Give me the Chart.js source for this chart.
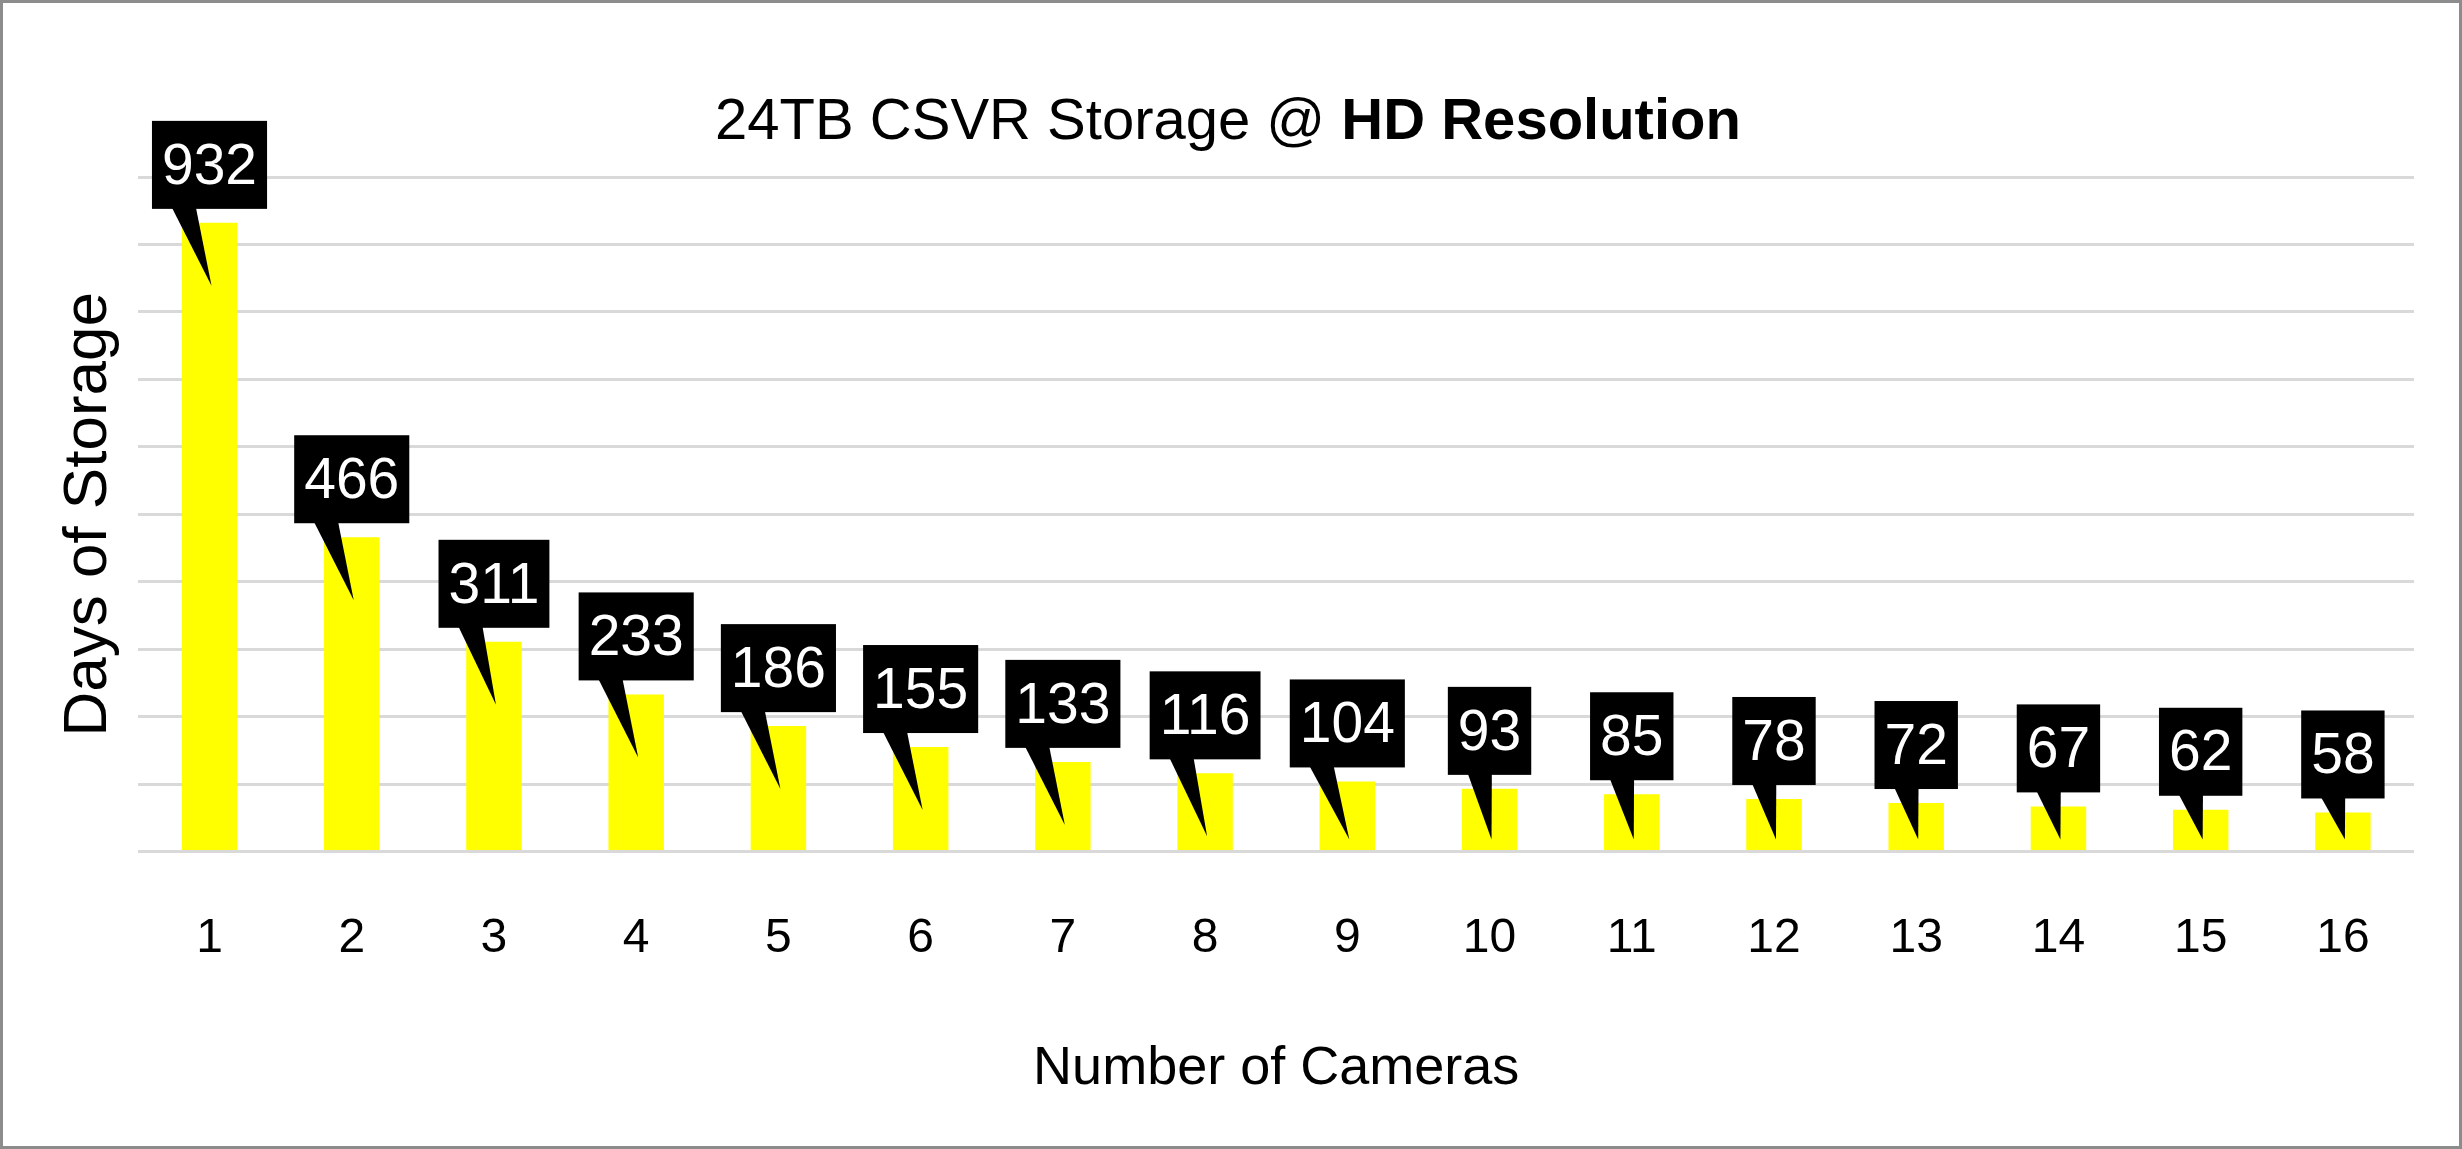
<!DOCTYPE html>
<html>
<head>
<meta charset="utf-8">
<script src="https://cdn.jsdelivr.net/npm/chart.js@4/dist/chart.umd.min.js"></script>
<style>
  html, body { margin: 0; padding: 0; background: #fff; }
  #wrap { width: 2462px; height: 1149px; box-sizing: border-box; border: 3px solid #8c8c8c; }
</style>
</head>
<body>
<div id="wrap"><canvas id="chart" width="2456" height="1143"></canvas></div>
<script>
const cameras = ['1','2','3','4','5','6','7','8','9','10','11','12','13','14','15','16'];
const days = [932, 466, 311, 233, 186, 155, 133, 116, 104, 93, 85, 78, 72, 67, 62, 58];

// Title with a bold part + callout labels
const calloutPlugin = {
  id: 'callouts',
  afterDatasetsDraw(chart) {
    const ctx = chart.ctx;
    const meta = chart.getDatasetMeta(0);
    const base = chart.scales.y.getPixelForValue(0);

    ctx.save();
    ctx.font = '57px Arial, "Liberation Sans", sans-serif';
    ctx.textBaseline = 'middle';
    ctx.textAlign = 'center';
    meta.data.forEach((bar, i) => {
      const txt = String(days[i]);
      const w = ctx.measureText(txt).width + 20;
      const h = 88;
      const cx = bar.x;
      const bottom = bar.y - 14;
      const top = bottom - h;
      const tipY = Math.min(bar.y + 63, base - 12);
      ctx.fillStyle = '#000';
      ctx.fillRect(cx - w / 2, top, w, h);
      ctx.beginPath();
      ctx.moveTo(cx - w / 2 + 20, bottom - 1);
      ctx.lineTo(cx - w / 2 + 44, bottom - 1);
      ctx.lineTo(cx + 2, tipY);
      ctx.closePath();
      ctx.fill();
      ctx.fillStyle = '#fff';
      ctx.fillText(txt, cx, top + h / 2 + 3);
    });

    // title
    ctx.fillStyle = '#000';
    ctx.textAlign = 'left';
    ctx.textBaseline = 'alphabetic';
    const t1 = '24TB CSVR Storage @ ';
    const t2 = 'HD Resolution';
    ctx.font = '58px Arial, "Liberation Sans", sans-serif';
    const w1 = ctx.measureText(t1).width;
    ctx.font = 'bold 58px Arial, "Liberation Sans", sans-serif';
    const w2 = ctx.measureText(t2).width;
    const x0 = 1225 - (w1 + w2) / 2;
    ctx.font = '58px Arial, "Liberation Sans", sans-serif';
    ctx.fillText(t1, x0, 136);
    ctx.font = 'bold 58px Arial, "Liberation Sans", sans-serif';
    ctx.fillText(t2, x0 + w1, 136);
    ctx.restore();
  }
};

new Chart(document.getElementById('chart'), {
  type: 'bar',
  data: {
    labels: cameras,
    datasets: [{
      data: days,
      backgroundColor: '#ffff00',
      barPercentage: 0.39,
      categoryPercentage: 1.0
    }]
  },
  options: {
    responsive: false,
    animation: false,
    layout: { padding: { top: 174, left: 45, right: 45, bottom: 40 } },
    plugins: { legend: { display: false }, tooltip: { enabled: false } },
    scales: {
      x: {
        grid: { display: false },
        border: { display: false },
        ticks: { color: '#000', padding: 50, font: { size: 48, family: 'Arial, "Liberation Sans", sans-serif' } },
        title: { display: true, text: 'Number of Cameras', color: '#000', padding: { top: 20 }, font: { size: 54, family: 'Arial, "Liberation Sans", sans-serif' } }
      },
      y: {
        min: 0, max: 1000,
        ticks: { display: false, stepSize: 100 },
        grid: { color: '#d9d9d9', lineWidth: 3, drawTicks: false },
        border: { display: false },
        title: { display: true, text: 'Days of Storage', color: '#000', padding: { bottom: 12 }, font: { size: 62, family: 'Arial, "Liberation Sans", sans-serif' } }
      }
    }
  },
  plugins: [calloutPlugin]
});
</script>
</body>
</html>
